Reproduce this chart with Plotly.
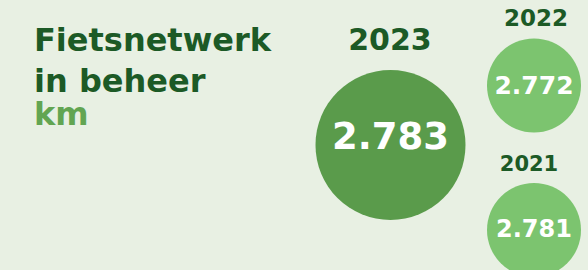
import plotly.graph_objects as go

# ---- data ----
years = ["2023", "2022", "2021"]
values_km = [2783, 2772, 2781]
title_lines = ["Fietsnetwerk", "in beheer"]
unit_label = "km"

# ---- layout / style (not data) ----
W, H = 588, 270
BG = "#e8f0e3"
DARK = "#1c5a26"
UNIT = "#62a552"
BIG = "#5a9b4b"
SMALL = "#7cc46f"
FONT = "DejaVu Sans"

cx = [390.5, 534, 534]
cy = [145, 85.5, 230]
diam = [150, 94, 94]
fill = [BIG, SMALL, SMALL]
val_size = [37, 25, 24]
val_dy = [-5, 2, 1]
year_x = [390, 536, 529]
year_y = [42.5, 20.5, 165.5]
year_size = [30, 23, 21]


def nl(v):
    return f"{v:,}".replace(",", ".")


fig = go.Figure()

# circles
fig.add_trace(go.Scatter(
    x=cx, y=cy, mode="markers",
    marker=dict(size=diam, color=fill, line=dict(width=0), opacity=1),
    hoverinfo="skip", showlegend=False,
))

# values inside circles
for i, v in enumerate(values_km):
    fig.add_trace(go.Scatter(
        x=[cx[i]], y=[cy[i] + val_dy[i]], mode="text",
        text=[nl(v)], textposition="middle center",
        textfont=dict(family=FONT, size=val_size[i], color="white", weight="bold"),
        hoverinfo="skip", showlegend=False,
    ))

# year labels
for i, yr in enumerate(years):
    fig.add_trace(go.Scatter(
        x=[year_x[i]], y=[year_y[i]], mode="text",
        text=[yr], textposition="middle center",
        textfont=dict(family=FONT, size=year_size[i], color=DARK, weight="bold"),
        hoverinfo="skip", showlegend=False,
    ))

# title: first line
fig.add_annotation(
    x=32, y=40, xref="x", yref="y", text=title_lines[0], showarrow=False,
    xanchor="left", yanchor="middle",
    font=dict(family=FONT, size=32, color=DARK, weight="bold"),
)
# second line + unit, tight line spacing (base size sets line pitch)
fig.add_annotation(
    x=32, y=97.5, xref="x", yref="y",
    text=(f"<span style='font-size:32px'>{title_lines[1]}</span><br>"
          f"<span style='font-size:32px;color:{UNIT}'>{unit_label}</span>"),
    showarrow=False, xanchor="left", yanchor="middle", align="left",
    font=dict(family=FONT, size=25.4, color=DARK, weight="bold"),
)

fig.update_layout(
    width=W, height=H,
    margin=dict(l=0, r=0, t=0, b=0),
    paper_bgcolor=BG, plot_bgcolor=BG,
    xaxis=dict(range=[0, W], visible=False, fixedrange=True),
    yaxis=dict(range=[H, 0], visible=False, fixedrange=True),
)

fig.write_html(
    "out.html",
    config={"displayModeBar": False},
    post_script="document.body.style.margin='0';document.body.style.overflow='hidden';document.body.style.background='" + BG + "';",
)
